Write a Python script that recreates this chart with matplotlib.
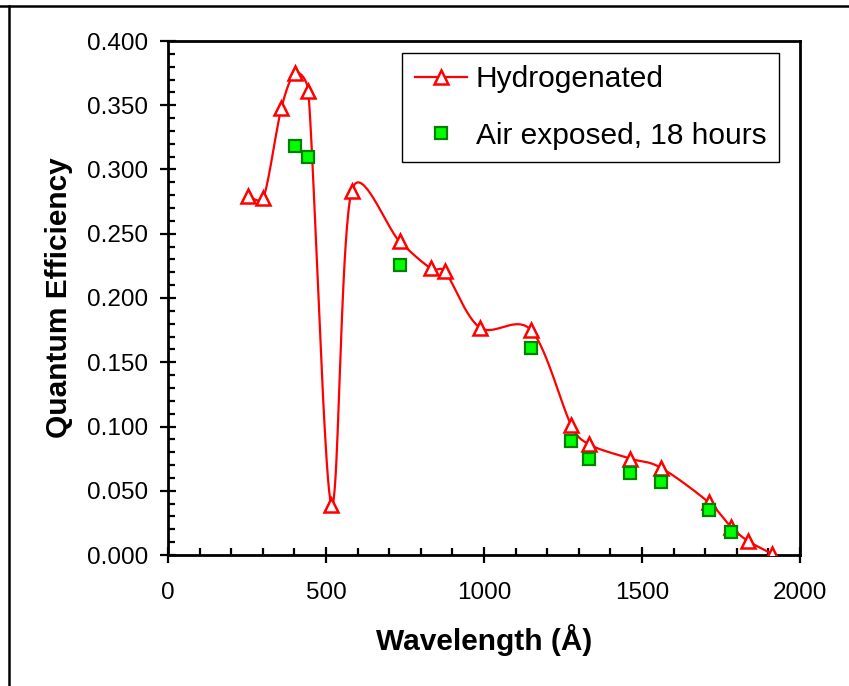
import numpy as np
import matplotlib
matplotlib.use('Agg')
import matplotlib.pyplot as plt
from matplotlib.lines import Line2D
from matplotlib.ticker import MultipleLocator, FormatStrFormatter

# hydrogenated sample
wl_h = [254, 302, 359, 403, 444, 517, 581, 733, 832, 876, 987, 1149,
        1276, 1333, 1463, 1559, 1711, 1781, 1835, 1911]
qe_h = [0.279, 0.278, 0.348, 0.375, 0.361, 0.039, 0.283, 0.244, 0.223, 0.221, 0.177, 0.175,
        0.101, 0.086, 0.075, 0.068, 0.041, 0.022, 0.011, 0.001]

# after 18 hours in air
wl_a = [403, 444, 733, 1149, 1276, 1333, 1463, 1559, 1711, 1781]
qe_a = [0.318, 0.310, 0.226, 0.161, 0.089, 0.075, 0.064, 0.057, 0.035, 0.018]


def smooth(x, y, n=40):
    # excel style smoothed line: bezier, control points 1/6 of the tangent,
    # capped at half the segment length (done in screen units)
    kx, ky = 632 / 2000.0, 514 / 0.4
    p = np.column_stack([np.array(x) * kx, np.array(y) * ky]).astype(float)
    out = []
    for i in range(len(p) - 1):
        p0 = p[max(i - 1, 0)]
        p1 = p[i]
        p2 = p[i + 1]
        p3 = p[min(i + 2, len(p) - 1)]
        half = np.hypot(*(p2 - p1)) / 2
        o1 = (p2 - p0) / 6
        o2 = (p3 - p1) / 6
        if np.hypot(*o1) > half:
            o1 = o1 * half / np.hypot(*o1)
        if np.hypot(*o2) > half:
            o2 = o2 * half / np.hypot(*o2)
        c1 = p1 + o1
        c2 = p2 - o2
        t = np.linspace(0, 1, n)[:, None]
        seg = (1-t)**3*p1 + 3*(1-t)**2*t*c1 + 3*(1-t)*t**2*c2 + t**3*p2
        out.append(seg if i == 0 else seg[1:])
    out = np.vstack(out)
    return out[:, 0] / kx, out[:, 1] / ky


plt.rcParams['font.family'] = ['Liberation Sans', 'DejaVu Sans']

fig = plt.figure(figsize=(8.49, 6.86), dpi=100)
ax = fig.add_axes([168/849, 1-555/686, 632/849, 514/686])

sx, sy = smooth(wl_h, qe_h)
ax.plot(sx, sy, color='red', lw=1.6, zorder=2)
ax.plot(wl_h, qe_h, ls='none', marker='^', ms=10, mfc='white', mec='red', mew=1.8, zorder=3)
ax.plot(wl_a, qe_a, ls='none', marker='s', ms=9, mfc='#00ff00', mec='#008000', mew=1.6, zorder=4)

ax.set_xlim(0, 2000)
ax.set_ylim(0, 0.4)
ax.xaxis.set_major_locator(MultipleLocator(500))
ax.xaxis.set_minor_locator(MultipleLocator(100))
ax.yaxis.set_major_locator(MultipleLocator(0.05))
ax.yaxis.set_minor_locator(MultipleLocator(0.01))
ax.yaxis.set_major_formatter(FormatStrFormatter('%.3f'))

ax.tick_params(which='major', direction='inout', length=11, width=1.6, labelsize=17.5)
ax.tick_params(which='minor', direction='in', length=5, width=1.6)
ax.tick_params(axis='y', which='major', pad=9)
ax.tick_params(axis='x', which='major', pad=14)
for s in ax.spines.values():
    s.set_linewidth(2)

ax.set_xlabel('Wavelength (Å)', fontsize=21.5, fontweight='bold')
ax.xaxis.label.set_verticalalignment('center')
ax.xaxis.set_label_coords(0.5, -0.165)
ax.set_ylabel('Quantum Efficiency', fontsize=21.5, fontweight='bold')
ax.yaxis.label.set_verticalalignment('center')
ax.yaxis.set_label_coords(-0.173, 0.5)

h1 = Line2D([], [], color='red', lw=1.6, marker='^', ms=10, mfc='white', mec='red', mew=1.8)
h2 = Line2D([], [], ls='none', marker='s', ms=9, mfc='#00ff00', mec='#008000', mew=1.6)
leg = ax.legend([h1, h2], ['Hydrogenated', 'Air exposed, 18 hours'], loc='upper right',
                bbox_to_anchor=(0.967, 0.977), borderaxespad=0, fontsize=21.5,
                fancybox=False, framealpha=1, edgecolor='black', handlelength=1.75,
                handletextpad=0.3, labelspacing=0.95, borderpad=0.42)
leg.get_frame().set_linewidth(1.0)

# outer frame of the pasted chart (only top and left visible)
fig.add_artist(Line2D([0, 1], [1-6/686, 1-6/686], color='black', lw=1.8, transform=fig.transFigure))
fig.add_artist(Line2D([9/849, 9/849], [0, 1-6/686], color='black', lw=1.8, transform=fig.transFigure))

fig.savefig('out.png', dpi=100)
